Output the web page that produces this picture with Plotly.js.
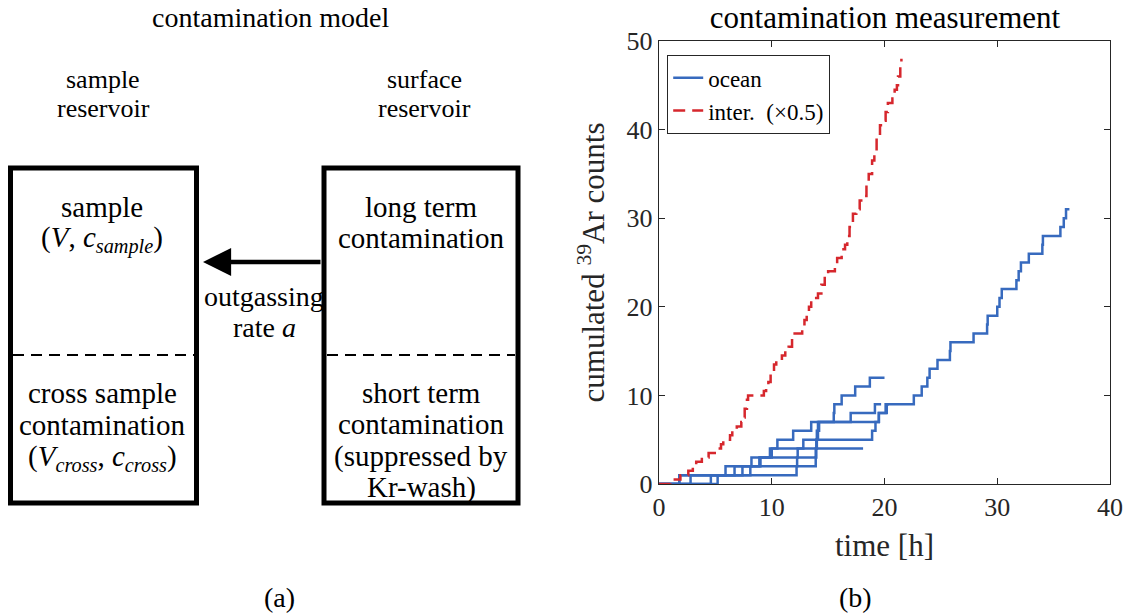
<!DOCTYPE html>
<html>
<head>
<meta charset="utf-8">
<script src="https://cdn.plot.ly/plotly-3.0.1.min.js"></script>
<style>html,body{margin:0;padding:0;background:#fff;}#chart{width:1128px;height:614px;}</style>
</head>
<body>
<div id="chart"></div>
<script>
// ---- data (panel b) ----
// ocean runs: times [h] at which each 39Ar count was registered, and end of run [h]
const oceanA_times = [5.2, 7.4, 9.0, 9.84, 12.8, 18.9, 19.2, 19.5, 20.2, 22.6, 23.3, 23.8, 24.0, 24.7, 25.8, 25.85, 27.9, 29.1, 29.15, 30.0, 30.2, 30.4, 31.7, 31.9, 32.1, 32.8, 34.0, 34.05, 35.6, 35.9, 36.1];
const oceanA_end = 36.4;
const oceanB_times = [1.8, 5.9, 8.2, 10.0, 10.5, 11.9, 13.5, 15.5, 15.55, 16.2, 17.4, 18.7];
const oceanB_end = 20.0;
const oceanC_times = [2.8, 6.7, 8.9, 13.9, 13.95, 14.0, 14.1, 17.0, 19.15];
const oceanC_end = 19.7;
const oceanD_times = [4.6, 12.2, 12.25, 12.3];
const oceanD_end = 18.1;
const oceanE_times = [1.8, 8.1, 13.9, 13.95, 14.0, 14.1, 14.2, 19.5, 20.1];
const oceanE_end = 20.4;

// interference measurement (already scaled x0.5): staircase corner points
const inter_t = [0, 1.0, 1.9, 2.6, 3.0, 3.3, 3.8, 4.4, 5.1, 5.5, 5.7, 6.3, 6.5, 6.9, 7.3, 7.5, 7.6, 7.8, 7.9, 9.3, 9.5, 9.7, 9.9, 10.2, 10.4, 10.9, 11.2, 11.5, 11.8, 12.7, 12.9, 13.1, 13.3, 13.5, 14.1, 14.4, 14.7, 15.0, 15.6, 15.8, 16.2, 16.5, 16.7, 16.9, 17.2, 17.5, 17.8, 18.1, 18.4, 18.6, 18.9, 19.1, 19.3, 19.6, 19.9, 20.1, 20.3, 20.7, 20.9, 21.1, 21.2, 21.4, 21.5];
const inter_c = [0, 0.5, 1, 1.5, 2, 2.5, 3, 3.5, 4, 4.5, 5, 5.5, 6, 6.5, 7, 7.5, 8.5, 9.5, 10, 10.5, 11, 11.5, 12.5, 13.5, 14, 14.5, 15, 15.5, 17, 17.5, 18.5, 19, 20, 21, 21.5, 22.5, 23.5, 24, 24.5, 25.5, 26.5, 27, 28, 29, 30.5, 31, 32, 32.5, 34, 35, 36.5, 37.5, 39, 40.5, 41, 42, 43, 43.5, 44.5, 45, 46, 47.5, 48];

const xTicks = [0, 10, 20, 30, 40];
const yTicks = [0, 10, 20, 30, 40, 50];

// ---- helpers ----
const W = 1128, H = 614;
const px = x => x / W;
const py = y => 1 - y / H;
const FONT = "'Liberation Serif', 'DejaVu Serif', 'Times New Roman', serif";
const BLUE = "rgb(55,106,190)";
const RED = "rgb(214,39,45)";
const AXC = "rgb(38,38,38)";

function cumulative(times, end) {
  const x = [0], y = [0];
  times.forEach((t, i) => { x.push(t); y.push(i + 1); });
  x.push(end); y.push(times.length);
  return {x, y};
}

const oceanRuns = [
  [oceanA_times, oceanA_end],
  [oceanB_times, oceanB_end],
  [oceanC_times, oceanC_end],
  [oceanD_times, oceanD_end],
  [oceanE_times, oceanE_end]
];

const traces = oceanRuns.map((r, i) => {
  const d = cumulative(r[0], r[1]);
  return {
    x: d.x, y: d.y, type: "scatter", mode: "lines",
    line: {shape: "hv", color: BLUE, width: 2.5},
    name: "ocean", legendgroup: "ocean", showlegend: i === 0,
    hoverinfo: "skip"
  };
});
traces.push({
  x: inter_t, y: inter_c, type: "scatter", mode: "lines",
  line: {shape: "hv", color: RED, width: 2.5, dash: "12px,7px"},
  name: "inter.&nbsp; (×0.5)", showlegend: true, hoverinfo: "skip"
});

// ---- panel (a): diagram ----
const shapes = [];
const boxLine = {color: "black", width: 5};
shapes.push({type: "rect", xref: "paper", yref: "paper", x0: px(10.5), x1: px(196.5), y0: py(168), y1: py(503), line: boxLine, layer: "above"});
shapes.push({type: "rect", xref: "paper", yref: "paper", x0: px(324), x1: px(518), y0: py(168), y1: py(503), line: boxLine, layer: "above"});
const dashLine = {color: "black", width: 2.2, dash: "11px,7px"};
shapes.push({type: "line", xref: "paper", yref: "paper", x0: px(13), x1: px(194), y0: py(355), y1: py(355), line: dashLine});
shapes.push({type: "line", xref: "paper", yref: "paper", x0: px(327), x1: px(515), y0: py(355), y1: py(355), line: dashLine});

function label(text, x, y, size) {
  return {text: text, x: px(x), y: py(y), xref: "paper", yref: "paper", showarrow: false,
          xanchor: "center", yanchor: "middle", font: {family: FONT, size: size || 29, color: "black"}};
}
const annotations = [
  label("contamination model", 270, 17, 28),
  label("sample", 103, 79, 26), label("reservoir", 103, 109, 26),
  label("surface", 424, 79, 26), label("reservoir", 424, 109, 26),
  label("sample", 102, 207), label("(<i>V</i>, <i>c<sub>sample</sub></i>)", 102, 240),
  label("cross sample", 102, 393), label("contamination", 102, 425),
  label("(<i>V<sub>cross</sub></i>, <i>c<sub>cross</sub></i>)", 102, 458),
  label("long term", 421, 207), label("contamination", 421, 238),
  label("short term", 421, 393), label("contamination", 421, 424),
  label("(suppressed by", 421, 456), label("Kr-wash)", 421, 487),
  label("outgassing", 264, 296, 28), label("rate <i>a</i>", 264, 327, 28),
  label("(a)", 279, 597, 28), label("(b)", 855, 597, 28),
  {text: "", x: px(203), y: py(262), xref: "paper", yref: "paper", showarrow: true,
   ax: 119, ay: 0, axref: "pixel", ayref: "pixel", arrowhead: 2, arrowsize: 1.25, arrowwidth: 4.5, arrowcolor: "black"}
];

const layout = {
  width: W, height: H,
  margin: {l: 0, r: 0, t: 0, b: 0},
  paper_bgcolor: "white", plot_bgcolor: "white",
  font: {family: FONT, color: "black"},
  title: {text: "contamination measurement", x: px(885), y: py(17), xref: "paper", yref: "paper",
          xanchor: "center", yanchor: "middle", font: {family: FONT, size: 31, color: "black"}},
  xaxis: {
    domain: [px(659), px(1110)], range: [0, 40], tickvals: xTicks,
    ticks: "inside", ticklen: 6, tickcolor: AXC, showline: true, mirror: "ticks",
    linecolor: AXC, linewidth: 1.2, showgrid: false, zeroline: false,
    tickfont: {family: FONT, size: 26, color: AXC}, automargin: false,
    title: {text: "time [h]", font: {family: FONT, size: 31, color: AXC}, standoff: 12}
  },
  yaxis: {
    domain: [py(484), py(41)], range: [0, 50], tickvals: yTicks,
    ticks: "inside", ticklen: 6, tickcolor: AXC, showline: true, mirror: "ticks",
    linecolor: AXC, linewidth: 1.2, showgrid: false, zeroline: false,
    tickfont: {family: FONT, size: 26, color: AXC}, automargin: false,
    title: {text: "cumulated <sup>39</sup>Ar counts", font: {family: FONT, size: 31, color: AXC}, standoff: 12}
  },
  showlegend: true,
  legend: {x: px(667), y: py(55), xanchor: "left", yanchor: "top", xref: "paper", yref: "paper",
           bgcolor: "white", bordercolor: AXC, borderwidth: 1.2,
           font: {family: FONT, size: 23, color: "black"}, tracegroupgap: 0},
  shapes: shapes,
  annotations: annotations
};

Plotly.newPlot("chart", traces, layout, {staticPlot: true, displayModeBar: false});
</script>
</body>
</html>
